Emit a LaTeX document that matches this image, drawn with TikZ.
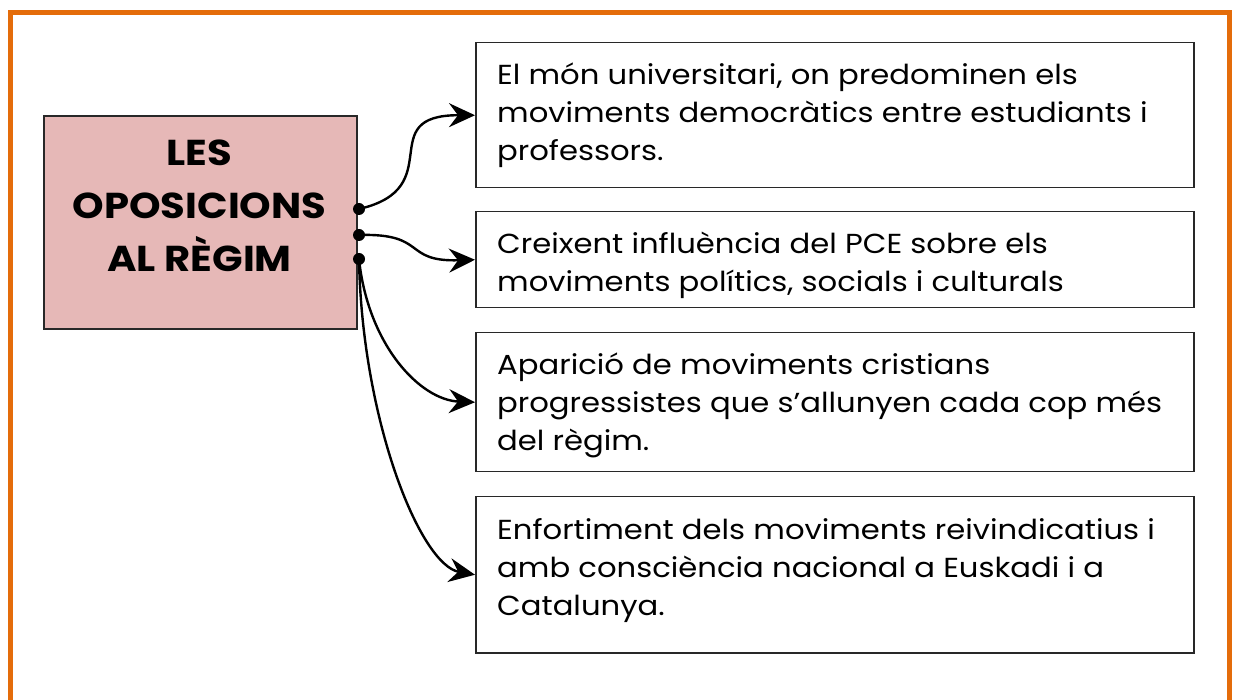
\documentclass[tikz,border=0pt]{standalone}
\usepackage{fontspec}
\setmainfont[FakeStretch=1.115]{Poppins}
\usetikzlibrary{arrows.meta}
\definecolor{frameorange}{RGB}{228,108,10}
\definecolor{titlepink}{RGB}{230,184,183}
\definecolor{boxline}{RGB}{40,40,40}
\tikzset{
  itembox/.style={draw=boxline, line width=1.5pt, fill=white, minimum width=718pt, inner sep=0pt, anchor=north west},
  itemtext/.style={anchor=base west, inner sep=0pt, align=left, font=\fontsize{27.5}{38}\selectfont},
  titlebox/.style={draw=boxline, line width=1.8pt, fill=titlepink, minimum width=313pt, minimum height=213pt, inner sep=0pt, anchor=north west},
  titletext/.style={inner sep=0pt, align=center, font=\fontsize{36}{53}\selectfont\bfseries},
  startdot/.style={circle, fill=black, inner sep=0pt, minimum size=12pt},
  conn/.style={line width=2.4pt, -{Stealth[length=26pt,width=24pt,inset=9pt]}}
}
\begin{document}
\begin{tikzpicture}[x=1pt,y=1pt]
\useasboundingbox (0,0) rectangle (1235,-700);
% orange frame
\draw[frameorange, line width=5pt] (10.5,-710) -- (10.5,-12.5) -- (1229.5,-12.5) -- (1229.5,-710);
% title box
\node[titlebox] (tb) at (43,-115) {};
\node[titletext, anchor=base] (tt) at (199.5,-272) {LES\\OPOSICIONS\\AL RÈGIM};
% item boxes
\node[itembox, minimum height=145pt] (b1) at (475,-42) {};
\node[itembox, minimum height=96pt] (b2) at (475,-211) {};
\node[itembox, minimum height=139pt] (b3) at (475,-332) {};
\node[itembox, minimum height=156pt] (b4) at (475,-496) {};
\node[itemtext] (t1) at (497,-161) {El món universitari, on predominen els\\moviments democràtics entre estudiants i\\professors.};
\node[itemtext] (t2) at (497,-292) {Creixent influència del PCE sobre els\\moviments polítics, socials i culturals};
\node[itemtext] (t3) at (497,-451) {Aparició de moviments cristians\\progressistes que s’allunyen cada cop més\\del règim.};
\node[itemtext] (t4) at (497,-615) {Enfortiment dels moviments reivindicatius i\\amb consciència nacional a Euskadi i a\\Catalunya.};
% start dots
\node[startdot] (d1) at (359,-209) {};
\node[startdot] (d2) at (359,-235) {};
\node[startdot] (d3) at (359,-259) {};
% connectors
\draw[conn] (d1.center) .. controls (450,-188) and (372,-115) .. (b1.west);
\draw[conn] (d2.center) .. controls (428,-233) and (402,-262) .. (b2.west);
\draw[conn] (d3.center) .. controls (368,-345) and (420,-400) .. (b3.west);
\draw[conn] (d3.center) .. controls (362,-420) and (420,-565) .. (b4.west);
\end{tikzpicture}
\end{document}
